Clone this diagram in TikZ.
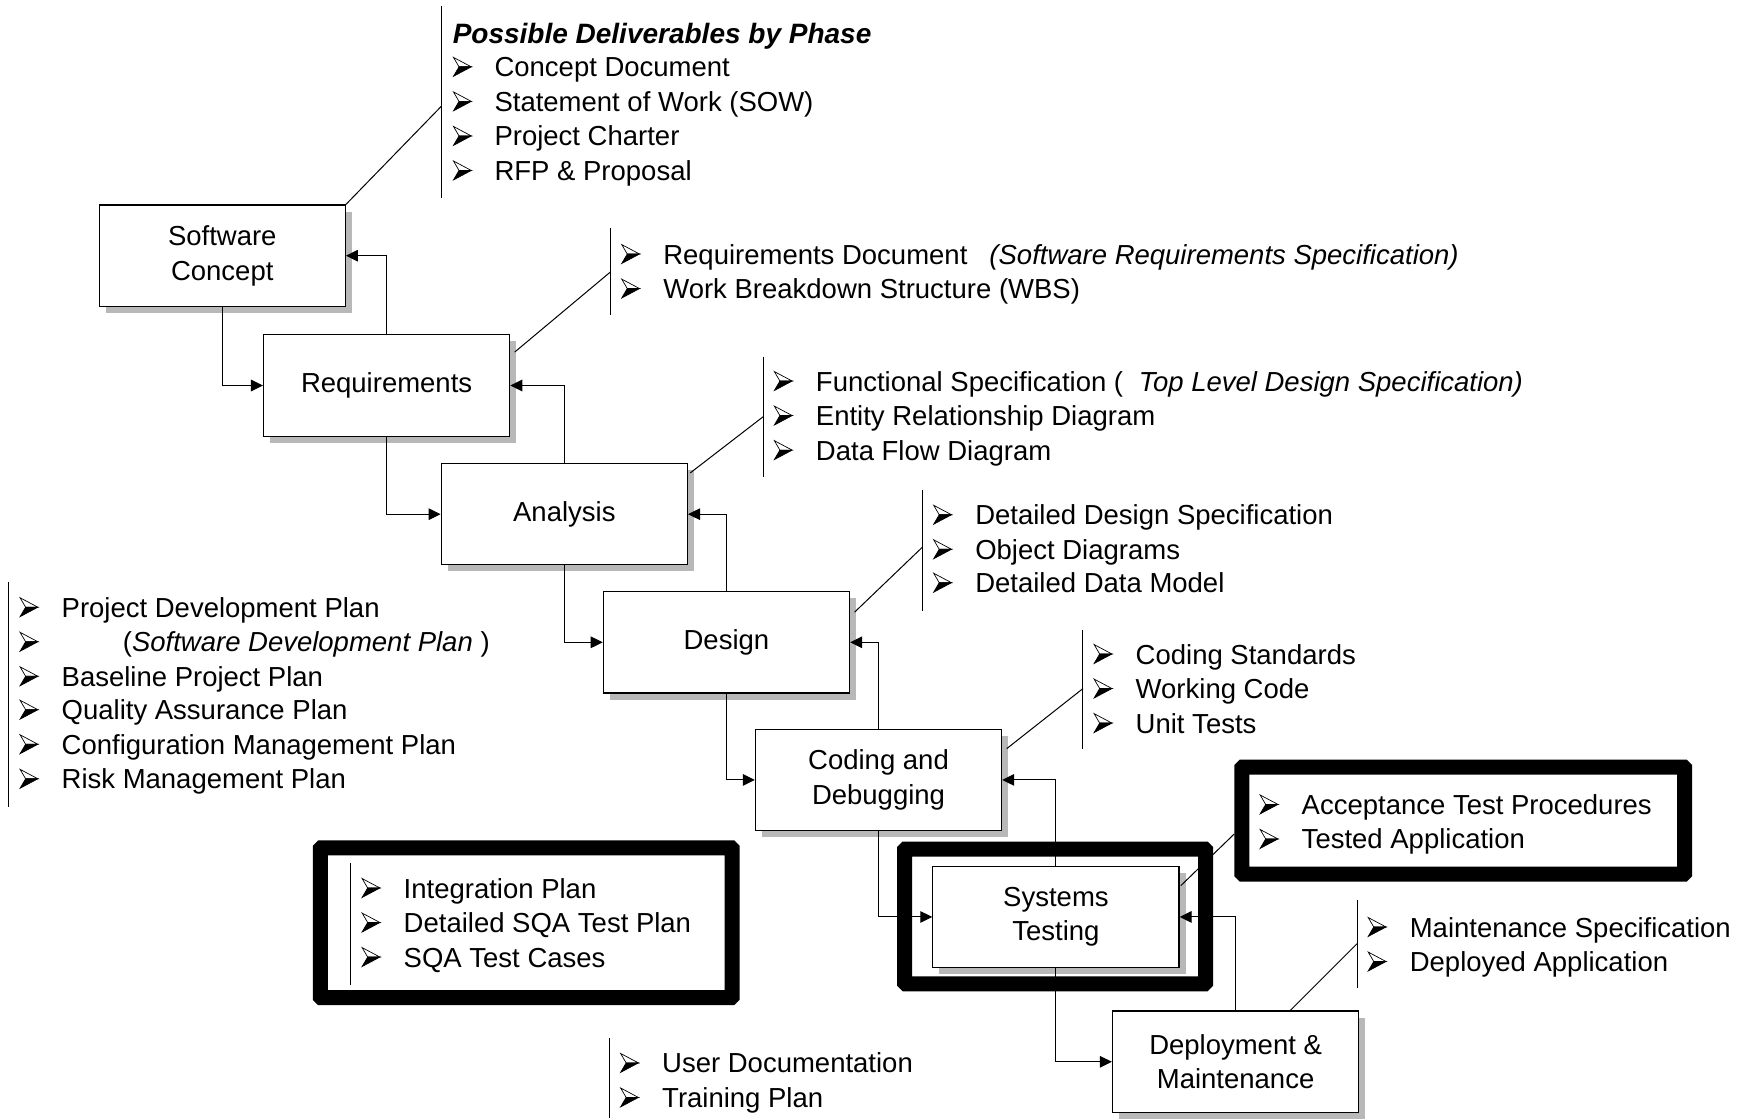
\documentclass[tikz,border=0pt]{standalone}
\usepackage{fontspec}
\setmainfont{Liberation Sans}
\usepackage{tikz}
\usetikzlibrary{arrows.meta}
\usetikzlibrary{shadows}

\tikzset{
  phase/.style={draw, fill=white, line width=0.6pt, minimum width=123.1pt, minimum height=50.7pt,
    inner sep=0pt, align=center,
    drop shadow={shadow xshift=3.3pt, shadow yshift=-3.3pt, fill=black!28, opacity=1}},
  flow/.style={line width=0.5pt, -{Triangle[length=6pt, width=5.8pt]}},
  item/.style={anchor=base west, inner sep=0pt},
  thickbox/.style={draw, line width=7.5pt, rounded corners=0.5pt, inner sep=0pt},
  thin/.style={line width=0.5pt},
  bul/.pic={
    \filldraw[fill=white, line width=0.35pt] (0,-8.5) -- (16,0) -- (5,0) -- cycle;
    \filldraw[line width=0.35pt] (5,0) -- (16,0) -- (0,8.5) -- cycle;
  }
}

\begin{document}
\fontsize{13.75pt}{17.27pt}\selectfont
\begin{tikzpicture}[x=0.5571pt, y=-0.5571pt]
\useasboundingbox (0,0) rectangle (1568,1005);

% highlighted boxes
\node[thickbox, minimum width=150.4pt, minimum height=67.4pt] (sysbox) at (947,822.5) {};
\node[thickbox, minimum width=221.4pt, minimum height=53.5pt] (accbox) at (1313.25,736.5) {};
\node[thickbox, minimum width=205.9pt, minimum height=74.9pt] (intbox) at (472.25,828.25) {};

% phases
\node[phase] (sc)  at (199.5,229.5) {Software\\Concept};
\node[phase] (req) at (347,346)   {Requirements};
\node[phase] (ana) at (506.5,461.5)   {Analysis};
\node[phase] (des) at (652,576.5)     {Design};
\node[phase] (cod) at (788.5,700) {Coding and\\Debugging};
\node[phase] (sys) at (947.75,823) {Systems\\Testing};
\node[phase] (dep) at (1109,953)  {Deployment \&\\Maintenance};

\foreach \a/\b in {sc/req, req/ana, ana/des, des/cod, cod/sys, sys/dep} {
  \draw[flow] (\a.south) |- (\b.west);
  \draw[flow] (\b.north) |- (\a.east);
}

% deliverables
\node[item, font=\fontsize{14pt}{17.27pt}\selectfont\bfseries\itshape] (head) at (406,39) {Possible Deliverables by Phase};
\draw[thin] (396.5,5) -- (396.5,178);
\coordinate (lsc) at (396.5,95);
\foreach \y/\t [count=\i] in {69/Concept Document, 100/Statement of Work (SOW),
    131/Project Charter, 162/RFP \& Proposal} {
  \pic at (407,\y-9) {bul};
  \node[item] (dsc\i) at (443.5,\y) {\t};
}
\draw[thin] (sc.north east) -- (lsc);

\draw[thin] (548,205) -- (548,283);
\coordinate (lreq) at (548,244);
\foreach \y/\t [count=\i] in {237/Requirements Document\hspace{11pt}\textit{(Software Requirements Specification)},
    268/Work Breakdown Structure (WBS)} {
  \pic at (558,\y-9) {bul};
  \node[item] (dreq\i) at (595,\y) {\t};
}
\draw[thin] ([shift={(4,16)}]req.north east) -- (lreq);

\draw[thin] (685,320) -- (685,428);
\coordinate (lana) at (685,374);
\foreach \y/\t [count=\i] in {351/Functional Specification (\hspace{7.8pt}\textit{Top Level Design Specification)},
    382/Entity Relationship Diagram, 413/Data Flow Diagram} {
  \pic at (695,\y-9) {bul};
  \node[item] (dana\i) at (732,\y) {\t};
}
\draw[thin] ([shift={(2,9)}]ana.north east) -- (lana);

\draw[thin] (828,440) -- (828,548);
\coordinate (ldes) at (828,491);
\foreach \y/\t [count=\i] in {471/Detailed Design Specification, 502/Object Diagrams, 532/Detailed Data Model} {
  \pic at (838,\y-9) {bul};
  \node[item] (ddes\i) at (875,\y) {\t};
}
\draw[thin] ([shift={(4,19)}]des.north east) -- (ldes);

\draw[thin] (972,565) -- (972,672);
\coordinate (lcod) at (972,618);
\foreach \y/\t [count=\i] in {596/Coding Standards, 627/Working Code, 658/Unit Tests} {
  \pic at (982,\y-9) {bul};
  \node[item] (dcod\i) at (1019,\y) {\t};
}
\draw[thin] ([shift={(4,18)}]cod.north east) -- (lcod);

\foreach \y/\t [count=\i] in {731/Acceptance Test Procedures, 762/Tested Application} {
  \pic at (1131,\y-9) {bul};
  \node[item] (dsys\i) at (1168,\y) {\t};
}
\draw[thin] ([shift={(1,18)}]sys.north east) -- ([shift={(0,12)}]accbox.west);

\draw[thin] (1218,808) -- (1218,887);
\coordinate (ldep) at (1218,847);
\foreach \y/\t [count=\i] in {841/Maintenance Specification, 872/Deployed Application} {
  \pic at (1228,\y-9) {bul};
  \node[item] (ddep\i) at (1265,\y) {\t};
}
\draw[thin] ([shift={(49,0)}]dep.north) -- (ldep);

% plans
\draw[thin] (8,522) -- (8,724);
\foreach \y/\t [count=\i] in {554/Project Development Plan,
    585/\hspace*{30.6pt}(\textit{Software Development Plan} ),
    616/Baseline Project Plan, 646/Quality Assurance Plan,
    677/Configuration Management Plan, 708/Risk Management Plan} {
  \pic at (18,\y-9) {bul};
  \node[item] (dplan\i) at (55,\y) {\t};
}

\draw[thin] (315,775) -- (315,884);
\foreach \y/\t [count=\i] in {806/Integration Plan, 837/Detailed SQA Test Plan, 868/SQA Test Cases} {
  \pic at (325,\y-9) {bul};
  \node[item] (dint\i) at (362,\y) {\t};
}

\draw[thin] (547,932) -- (547,1003);
\foreach \y/\t [count=\i] in {963/User Documentation, 994/Training Plan} {
  \pic at (557,\y-9) {bul};
  \node[item] (duser\i) at (594,\y) {\t};
}
\end{tikzpicture}
\end{document}
